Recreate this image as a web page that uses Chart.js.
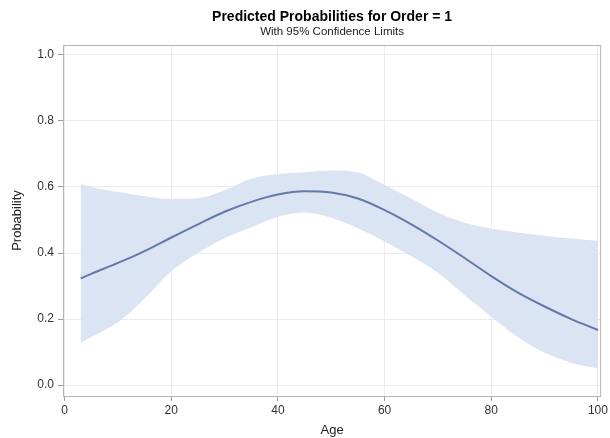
<!DOCTYPE html>
<html>
<head>
<meta charset="utf-8">
<script src="https://cdn.jsdelivr.net/npm/chart.js@4/dist/chart.umd.min.js"></script>
<style>
  html, body { margin: 0; padding: 0; background: #fff; }
  #wrap { width: 610px; height: 438px; position: relative; }
</style>
</head>
<body>
<div id="wrap"><canvas id="chart"></canvas></div>
<script>
// ── DATA ──────────────────────────────────────────────────────
const ages      = [3, 5, 10, 15, 20, 25, 30, 35, 40, 45, 50, 55, 60, 65, 70, 75, 80, 85, 90, 95, 100];
const predicted = [0.323, 0.337, 0.370, 0.406, 0.447, 0.487, 0.525, 0.555, 0.577, 0.587, 0.583, 0.565, 0.530, 0.487, 0.438, 0.385, 0.330, 0.280, 0.238, 0.200, 0.167];
const upperCL   = [0.609, 0.600, 0.585, 0.572, 0.564, 0.566, 0.590, 0.625, 0.639, 0.645, 0.650, 0.644, 0.606, 0.565, 0.522, 0.492, 0.474, 0.462, 0.452, 0.444, 0.437];
const lowerCL   = [0.128, 0.145, 0.190, 0.262, 0.345, 0.400, 0.445, 0.478, 0.510, 0.523, 0.507, 0.475, 0.435, 0.390, 0.340, 0.272, 0.207, 0.145, 0.098, 0.068, 0.050];
const xTicks    = [0, 20, 40, 60, 80, 100];
const yTicks    = [0.0, 0.2, 0.4, 0.6, 0.8, 1.0];

const titleText    = 'Predicted Probabilities for Order = 1';
const subtitleText = 'With 95% Confidence Limits';

// ── HELPERS ───────────────────────────────────────────────────
const FONT = '"Liberation Sans", Arial, sans-serif';
const pts = arr => ages.map((a, i) => ({ x: a, y: arr[i] }));

// frame + titles centred over the plot area
const framePlugin = {
  id: 'frame',
  afterDraw(chart) {
    const { ctx, chartArea: a } = chart;
    ctx.save();
    ctx.strokeStyle = '#b4b4b4';
    ctx.lineWidth = 1;
    ctx.strokeRect(a.left + 0.5, a.top + 0.5, a.right - a.left - 1, a.bottom - a.top);
    const cx = (a.left + a.right) / 2;
    ctx.fillStyle = '#000';
    ctx.textAlign = 'center';
    ctx.textBaseline = 'middle';
    ctx.font = 'bold 14px ' + FONT;
    ctx.fillText(titleText, cx, 17);
    ctx.fillStyle = '#222';
    ctx.font = '11.5px ' + FONT;
    ctx.fillText(subtitleText, cx, 32);
    ctx.restore();
  }
};

// ── CHART ─────────────────────────────────────────────────────
new Chart(document.getElementById('chart'), {
  type: 'line',
  data: {
    datasets: [
      {
        label: 'Predicted',
        data: pts(predicted),
        borderColor: '#6479a8',
        borderWidth: 2,
        pointRadius: 0,
        cubicInterpolationMode: 'monotone',
        fill: false
      },
      {
        label: 'Upper CL',
        data: pts(upperCL),
        borderWidth: 0,
        borderColor: 'rgba(0,0,0,0)',
        backgroundColor: '#dbe4f2',
        pointRadius: 0,
        cubicInterpolationMode: 'monotone',
        fill: '+1'
      },
      {
        label: 'Lower CL',
        data: pts(lowerCL),
        borderWidth: 0,
        borderColor: 'rgba(0,0,0,0)',
        pointRadius: 0,
        cubicInterpolationMode: 'monotone',
        fill: false
      }
    ]
  },
  options: {
    responsive: true,
    maintainAspectRatio: false,
    animation: false,
    layout: { padding: { left: 0, top: 45, right: 5, bottom: 0 } },
    plugins: {
      legend: { display: false },
      tooltip: { enabled: false },
      title: { display: false }
    },
    scales: {
      x: {
        type: 'linear',
        min: -0.3,
        max: 100.6,
        afterBuildTicks: s => { s.ticks = xTicks.map(v => ({ value: v })); },
        afterFit: s => { s.height = 42; },
        grid: { color: '#ebebeb', tickColor: '#9a9a9a', tickLength: 5, drawTicks: true },
        border: { display: false },
        ticks: { color: '#333', font: { family: FONT, size: 12 }, padding: 2, maxRotation: 0 },
        title: { display: true, text: 'Age', color: '#222', font: { family: FONT, size: 13 }, padding: { top: 2, bottom: 0 } }
      },
      y: {
        min: -0.033,
        max: 1.03,
        afterBuildTicks: s => { s.ticks = yTicks.map(v => ({ value: v })); },
        afterFit: s => { s.width = 63; },
        grid: { color: '#ebebeb', tickColor: '#9a9a9a', tickLength: 5, drawTicks: true },
        border: { display: false },
        ticks: { color: '#333', font: { family: FONT, size: 12 }, padding: 4, callback: v => v.toFixed(1) },
        title: { display: true, text: 'Probability', color: '#222', font: { family: FONT, size: 13 }, padding: { top: 10, bottom: 4 } }
      }
    }
  },
  plugins: [framePlugin]
});
</script>
</body>
</html>
